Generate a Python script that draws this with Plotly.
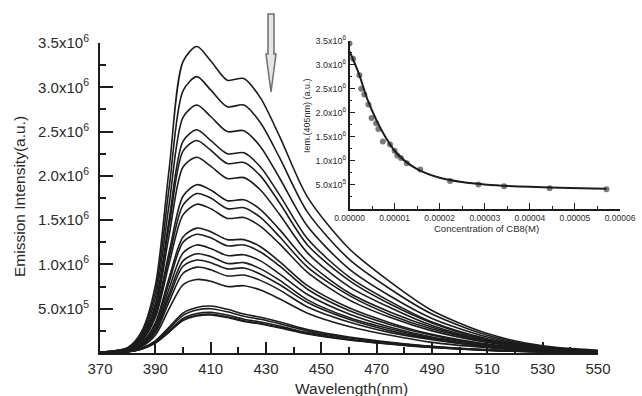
import plotly.graph_objects as go

# ---------------- data ----------------
wavelength = [370, 380, 385, 390, 395, 400, 405, 410, 416, 422, 428, 435, 445, 460, 475, 490, 510, 530, 550]

# emission spectra (units of 1e6 a.u.), from highest to lowest
spec_01 = [0.01, 0.06, 0.24, 0.76, 2.08, 3.29, 3.46, 3.30, 3.08, 3.10, 2.88, 2.44, 1.76, 1.18, 0.80, 0.48, 0.22, 0.08, 0.03]
spec_02 = [0.01, 0.06, 0.22, 0.69, 1.87, 2.96, 3.12, 2.97, 2.78, 2.80, 2.60, 2.20, 1.59, 1.06, 0.72, 0.44, 0.20, 0.07, 0.02]
spec_03 = [0.01, 0.05, 0.20, 0.62, 1.68, 2.66, 2.80, 2.67, 2.50, 2.51, 2.33, 1.97, 1.43, 0.95, 0.64, 0.39, 0.18, 0.06, 0.02]
spec_04 = [0.01, 0.05, 0.18, 0.55, 1.51, 2.39, 2.52, 2.40, 2.25, 2.26, 2.10, 1.78, 1.29, 0.86, 0.58, 0.35, 0.16, 0.06, 0.02]
spec_05 = [0.00, 0.04, 0.17, 0.53, 1.44, 2.28, 2.40, 2.29, 2.14, 2.15, 2.00, 1.69, 1.22, 0.82, 0.55, 0.34, 0.15, 0.05, 0.02]
spec_06 = [0.00, 0.04, 0.15, 0.49, 1.33, 2.10, 2.21, 2.11, 1.97, 1.98, 1.84, 1.56, 1.13, 0.75, 0.51, 0.31, 0.14, 0.05, 0.02]
spec_07 = [0.00, 0.04, 0.15, 0.46, 1.14, 1.77, 1.90, 1.84, 1.72, 1.73, 1.62, 1.39, 1.03, 0.68, 0.46, 0.29, 0.13, 0.05, 0.02]
spec_08 = [0.00, 0.04, 0.14, 0.43, 1.08, 1.67, 1.80, 1.75, 1.63, 1.64, 1.53, 1.31, 0.97, 0.65, 0.43, 0.27, 0.13, 0.05, 0.02]
spec_09 = [0.00, 0.03, 0.13, 0.40, 1.01, 1.56, 1.68, 1.63, 1.52, 1.53, 1.43, 1.23, 0.91, 0.60, 0.40, 0.25, 0.12, 0.04, 0.02]
spec_10 = [0.00, 0.03, 0.11, 0.34, 0.85, 1.31, 1.41, 1.37, 1.28, 1.28, 1.20, 1.03, 0.76, 0.51, 0.34, 0.21, 0.10, 0.04, 0.01]
spec_11 = [0.00, 0.03, 0.11, 0.32, 0.80, 1.25, 1.34, 1.30, 1.21, 1.22, 1.14, 0.98, 0.72, 0.48, 0.32, 0.20, 0.09, 0.03, 0.01]
spec_12 = [0.00, 0.02, 0.10, 0.29, 0.73, 1.13, 1.22, 1.18, 1.10, 1.11, 1.04, 0.89, 0.66, 0.44, 0.29, 0.18, 0.09, 0.03, 0.01]
spec_13 = [0.00, 0.02, 0.09, 0.27, 0.67, 1.04, 1.12, 1.09, 1.01, 1.02, 0.95, 0.82, 0.60, 0.40, 0.27, 0.17, 0.08, 0.03, 0.01]
spec_14 = [0.00, 0.02, 0.08, 0.25, 0.63, 0.98, 1.05, 1.02, 0.95, 0.96, 0.89, 0.77, 0.57, 0.38, 0.25, 0.16, 0.07, 0.03, 0.01]
spec_15 = [0.00, 0.02, 0.08, 0.23, 0.58, 0.90, 0.97, 0.94, 0.87, 0.88, 0.82, 0.71, 0.52, 0.35, 0.23, 0.15, 0.07, 0.02, 0.01]
spec_16 = [0.00, 0.02, 0.07, 0.20, 0.50, 0.77, 0.83, 0.81, 0.75, 0.76, 0.71, 0.61, 0.45, 0.30, 0.20, 0.12, 0.06, 0.02, 0.01]
spec_17 = [0.002, 0.016, 0.053, 0.138, 0.292, 0.451, 0.514, 0.530, 0.493, 0.440, 0.403, 0.350, 0.265, 0.180, 0.122, 0.077, 0.037, 0.016, 0.006]
spec_18 = [0.002, 0.015, 0.050, 0.130, 0.275, 0.425, 0.485, 0.500, 0.465, 0.415, 0.380, 0.330, 0.250, 0.170, 0.115, 0.073, 0.035, 0.015, 0.006]
spec_19 = [0.001, 0.014, 0.046, 0.120, 0.253, 0.391, 0.446, 0.460, 0.428, 0.382, 0.350, 0.304, 0.230, 0.156, 0.106, 0.067, 0.032, 0.014, 0.006]
spec_20 = [0.001, 0.013, 0.044, 0.114, 0.242, 0.374, 0.427, 0.440, 0.409, 0.365, 0.334, 0.290, 0.220, 0.150, 0.101, 0.064, 0.031, 0.013, 0.005]
spec_21 = [0.001, 0.013, 0.043, 0.112, 0.237, 0.366, 0.417, 0.430, 0.400, 0.357, 0.327, 0.284, 0.215, 0.146, 0.099, 0.062, 0.030, 0.013, 0.005]

spectra = [spec_01, spec_02, spec_03, spec_04, spec_05, spec_06, spec_07, spec_08, spec_09, spec_10, spec_11,
           spec_12, spec_13, spec_14, spec_15, spec_16, spec_17, spec_18, spec_19, spec_20, spec_21]
SCALE = 1e6

main_x_ticks = [370, 390, 410, 430, 450, 470, 490, 510, 530, 550]
main_y_tickvals = [0.5e6, 1.0e6, 1.5e6, 2.0e6, 2.5e6, 3.0e6, 3.5e6]
main_y_ticktext = ["5.0x10<sup>5</sup>", "1.0x10<sup>6</sup>", "1.5x10<sup>6</sup>", "2.0x10<sup>6</sup>",
                   "2.5x10<sup>6</sup>", "3.0x10<sup>6</sup>", "3.5x10<sup>6</sup>"]

# inset: intensity at 405 nm vs CB8 concentration
conc_cb8 = [0, 0.08e-5, 0.22e-5, 0.26e-5, 0.33e-5, 0.42e-5, 0.49e-5, 0.59e-5, 0.64e-5, 0.74e-5, 0.90e-5,
            1.00e-5, 1.06e-5, 1.14e-5, 1.27e-5, 1.57e-5, 2.23e-5, 2.86e-5, 3.43e-5, 4.44e-5, 5.70e-5]
iem_405 = [3.44, 3.12, 2.78, 2.50, 2.38, 2.17, 1.89, 1.78, 1.66, 1.40, 1.34,
           1.21, 1.11, 1.06, 0.95, 0.82, 0.58, 0.51, 0.47, 0.43, 0.41]
fit_conc = [0, 0.2e-5, 0.4e-5, 0.6e-5, 0.8e-5, 1.0e-5, 1.2e-5, 1.5e-5, 2.0e-5, 2.5e-5, 3.0e-5, 4.0e-5, 5.7e-5]
fit_iem = [3.28, 2.83, 2.27, 1.84, 1.49, 1.21, 1.02, 0.83, 0.65, 0.56, 0.51, 0.46, 0.42]

inset_x_tickvals = [0, 1e-5, 2e-5, 3e-5, 4e-5, 5e-5, 6e-5]
inset_x_ticktext = ["0.00000", "0.00001", "0.00002", "0.00003", "0.00004", "0.00005", "0.00006"]

# ---------------- figure ----------------
FONT = "Liberation Sans, Arial, sans-serif"
INK = "#1c1c1c"
TXT = "#2a2a2a"

fig = go.Figure()
for s in spectra:
    fig.add_trace(go.Scatter(x=wavelength, y=[v * SCALE for v in s], mode="lines",
                             line=dict(color=INK, width=1.6, shape="spline", smoothing=0.8),
                             showlegend=False, hoverinfo="skip", xaxis="x", yaxis="y"))

fig.add_trace(go.Scatter(x=conc_cb8, y=[v * SCALE for v in iem_405], mode="markers",
                         marker=dict(color="#7a7a7a", size=6), showlegend=False, hoverinfo="skip",
                         xaxis="x2", yaxis="y2"))
fig.add_trace(go.Scatter(x=fit_conc, y=[v * SCALE for v in fit_iem], mode="lines",
                         line=dict(color=INK, width=2, shape="spline", smoothing=1.0),
                         showlegend=False, hoverinfo="skip", xaxis="x2", yaxis="y2"))

W, H = 642, 396
ML, MR, MT, MB = 100, 10, 30, 43
pw, ph = W - ML - MR, H - MT - MB

def px_x(p):
    return (p - ML) / pw

def px_y(p):
    return (H - MB - p) / ph

axis_common = dict(showgrid=False, zeroline=False, showline=True, linecolor=INK, linewidth=2,
                   ticks="inside", tickcolor=INK, tickwidth=2, mirror=False, automargin=False)

inset_common = dict(showgrid=False, zeroline=False, showline=True, linecolor=INK, linewidth=1.5,
                    ticks="inside", tickcolor=INK, tickwidth=1.2, ticklabelstandoff=0, automargin=False)

fig.update_layout(
    width=W, height=H, autosize=False,
    margin=dict(l=ML, r=MR, t=MT, b=MB, autoexpand=False),
    paper_bgcolor="white", plot_bgcolor="rgba(0,0,0,0)",
    font=dict(family=FONT, color=TXT),
    xaxis=dict(domain=[0, px_x(598)], range=[370, 550], tickvals=main_x_ticks, ticklen=11,
               tickfont=dict(size=15, color=TXT), ticklabelstandoff=1,
               minor=dict(ticks="inside", ticklen=6, tickwidth=1.5, tickcolor=INK, tick0=370, dtick=10),
               anchor="y", **axis_common),
    yaxis=dict(domain=[0, px_y(43)], range=[0, 3.5e6], tickvals=main_y_tickvals, ticktext=main_y_ticktext,
               ticklen=13, tickfont=dict(size=15, color=TXT), ticklabelstandoff=6,
               minor=dict(ticks="inside", ticklen=6, tickwidth=1.5, tickcolor=INK, tick0=0, dtick=0.25e6),
               anchor="x", **axis_common),
    xaxis2=dict(domain=[px_x(349.5), px_x(620)], range=[0, 6e-5], tickvals=inset_x_tickvals,
                ticktext=inset_x_ticktext, ticklen=6, tickfont=dict(size=8.5, color=TXT),
                minor=dict(ticks="inside", ticklen=3, tickwidth=1, tickcolor=INK, tick0=0, dtick=0.5e-5),
                anchor="y2", **inset_common),
    yaxis2=dict(domain=[px_y(209), px_y(40.5)], range=[0, 3.5e6], tickvals=main_y_tickvals,
                ticktext=main_y_ticktext, ticklen=6, tickfont=dict(size=9, color=TXT),
                minor=dict(ticks="inside", ticklen=3, tickwidth=1, tickcolor=INK, tick0=0, dtick=0.25e6),
                anchor="x2", **inset_common),
)

annotations = [
    dict(text="Wavelength(nm)", x=px_x(351), y=px_y(388), xref="paper", yref="paper",
         showarrow=False, font=dict(size=15.5, color=TXT, family=FONT), xanchor="center", yanchor="middle"),
    dict(text="Emission Intensity(a.u.)", x=px_x(19), y=px_y(197), xref="paper", yref="paper",
         showarrow=False, textangle=-90, font=dict(size=15.5, color=TXT, family=FONT),
         xanchor="center", yanchor="middle"),
    dict(text="Concentration of CB8(M)", x=px_x(486), y=px_y(228), xref="paper", yref="paper",
         showarrow=False, font=dict(size=9.5, color=TXT, family=FONT), xanchor="center", yanchor="middle"),
    dict(text="Iem.(405nm) (a.u.)", x=px_x(307), y=px_y(116), xref="paper", yref="paper",
         showarrow=False, textangle=-90, font=dict(size=9, color=TXT, family=FONT),
         xanchor="center", yanchor="middle"),
]
fig.update_layout(annotations=annotations)

# hollow down arrow (decoration)
sx0, sx1 = px_x(268), px_x(274)
hx0, hx1, hxc = px_x(266), px_x(276), px_x(271)
y_top, y_neck, y_tip = px_y(14), px_y(54), px_y(92)
arrow_path = (f"M {sx0},{y_top} L {sx1},{y_top} L {sx1},{y_neck} L {hx1},{y_neck} "
              f"L {hxc},{y_tip} L {hx0},{y_neck} L {sx0},{y_neck} Z")
fig.add_shape(type="path", path=arrow_path, xref="paper", yref="paper",
              line=dict(color="#6e6e6e", width=1.5), fillcolor="#e6e6e6")

fig.write_html("out.html",
               config={"responsive": False, "displayModeBar": False},
               post_script="document.body.style.margin='0';document.body.style.padding='0';"
                           "document.documentElement.style.overflow='hidden';")
